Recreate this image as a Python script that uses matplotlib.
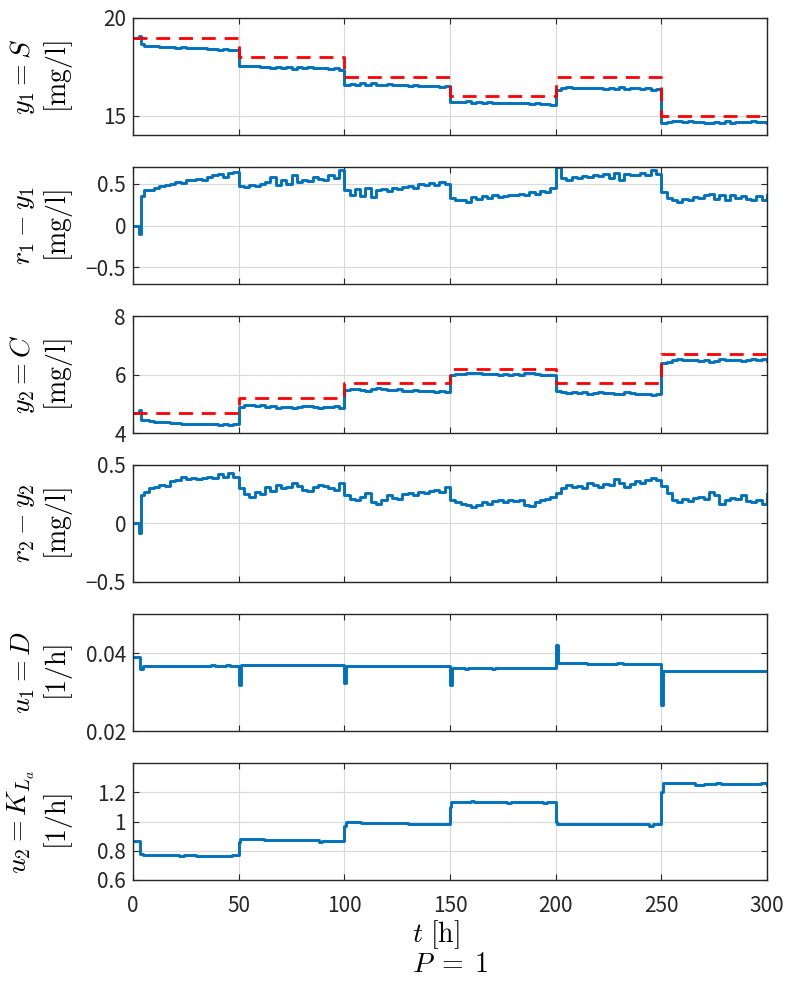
import numpy as np
import matplotlib
matplotlib.use("Agg")
import matplotlib.pyplot as plt
from matplotlib.ticker import FuncFormatter

plt.rcParams['font.family'] = ['Noto Sans CJK JP', 'DejaVu Sans']
plt.rcParams['mathtext.fontset'] = 'cm'

# set-point schedule [h]
t_sp = [0, 50, 100, 150, 200, 250, 300]
r1_sp = [19, 18, 17, 16, 17, 15]
r2_sp = [4.7, 5.2, 5.7, 6.2, 5.7, 6.7]

# sampling times of the tracking errors [h]
t_err = np.concatenate([[0, 3, 4], np.arange(5, 300.1, 2.5)])

# r1 - y1 [mg/l]
e1 = [0.0, -0.10, 0.35,
      0.42, 0.43, 0.45, 0.47, 0.48, 0.50, 0.52, 0.51, 0.54, 0.55,
      0.56, 0.55, 0.58, 0.60, 0.62, 0.58, 0.63, 0.64,
      0.47, 0.46, 0.48, 0.47, 0.50, 0.52, 0.58, 0.49, 0.55, 0.50,
      0.60, 0.52, 0.55, 0.53, 0.58, 0.56, 0.54, 0.60, 0.57, 0.66,
      0.42, 0.37, 0.44, 0.35, 0.45, 0.34, 0.42, 0.44, 0.41, 0.45,
      0.44, 0.46, 0.47, 0.45, 0.50, 0.49, 0.51, 0.48, 0.52, 0.50,
      0.33, 0.30, 0.31, 0.28, 0.34, 0.32, 0.35, 0.33, 0.36, 0.34,
      0.35, 0.37, 0.36, 0.38, 0.37, 0.40, 0.38, 0.41, 0.40, 0.45,
      0.70, 0.57, 0.54, 0.58, 0.57, 0.59, 0.58, 0.60, 0.59, 0.62,
      0.57, 0.63, 0.55, 0.62, 0.60, 0.61, 0.63, 0.60, 0.67, 0.62,
      0.40, 0.33, 0.30, 0.28, 0.32, 0.30, 0.34, 0.33, 0.36, 0.38,
      0.32, 0.37, 0.30, 0.36, 0.33, 0.35, 0.32, 0.30, 0.35, 0.31, 0.36]

# r2 - y2 [mg/l]
e2 = [0.0, -0.08, 0.24,
      0.27, 0.30, 0.31, 0.33, 0.32, 0.36, 0.37, 0.40, 0.38, 0.39,
      0.38, 0.39, 0.40, 0.39, 0.42, 0.40, 0.43, 0.40,
      0.30, 0.25, 0.23, 0.27, 0.25, 0.31, 0.28, 0.33, 0.30, 0.31,
      0.35, 0.32, 0.29, 0.28, 0.31, 0.33, 0.32, 0.30, 0.29, 0.35,
      0.24, 0.21, 0.20, 0.23, 0.26, 0.18, 0.17, 0.20, 0.24, 0.22,
      0.21, 0.25, 0.26, 0.24, 0.27, 0.26, 0.28, 0.29, 0.27, 0.31,
      0.20, 0.18, 0.17, 0.16, 0.14, 0.16, 0.18, 0.17, 0.19, 0.20,
      0.18, 0.20, 0.19, 0.20, 0.16, 0.15, 0.18, 0.20, 0.21, 0.23,
      0.26, 0.30, 0.33, 0.31, 0.32, 0.30, 0.35, 0.33, 0.31, 0.34,
      0.33, 0.38, 0.35, 0.31, 0.34, 0.36, 0.35, 0.37, 0.39, 0.37,
      0.32, 0.26, 0.20, 0.18, 0.21, 0.19, 0.22, 0.23, 0.21, 0.27,
      0.24, 0.17, 0.20, 0.22, 0.21, 0.24, 0.19, 0.18, 0.20, 0.17, 0.25]

# dilution rate D [1/h]
t_u1 = [0, 3.5, 4.5, 37, 39, 44, 46, 50, 51, 100, 101, 150, 151, 157,
        158.5, 170, 171.5, 200, 201, 215, 229, 232, 250, 251, 300]
u1 = [0.0389, 0.0358, 0.0367, 0.0369, 0.0367, 0.0369, 0.0367, 0.0318,
      0.0368, 0.0322, 0.0367, 0.0318, 0.0362, 0.0358, 0.0362, 0.0358,
      0.0362, 0.0421, 0.0374, 0.0371, 0.0374, 0.0371, 0.0266, 0.0353,
      0.0353]

# oxygen transfer coefficient KLa [1/h]
t_u2 = [0, 3.5, 4.5, 22, 24, 30, 33, 45, 47, 50, 50.7, 60, 62, 88, 89.5,
        100, 100.8, 106, 108, 130, 140, 150, 150.7, 160, 161.5, 177, 179,
        194, 196, 200, 200.7, 244, 246, 250, 250.6, 266, 270, 276, 278,
        297, 300]
u2 = [0.87, 0.78, 0.768, 0.762, 0.768, 0.763, 0.767, 0.763, 0.77, 0.86,
      0.878, 0.882, 0.875, 0.862, 0.87, 0.97, 0.995, 1.0, 0.993, 0.985,
      0.98, 1.10, 1.132, 1.14, 1.132, 1.125, 1.132, 1.125, 1.13, 1.0,
      0.98, 0.972, 0.98, 1.2, 1.26, 1.252, 1.258, 1.265, 1.258, 1.262,
      1.252]


def level_at(t, t_steps, levels):
    idx = np.searchsorted(t_steps, t, side='right') - 1
    return np.asarray(levels)[np.clip(idx, 0, len(levels) - 1)]


y1 = level_at(t_err, t_sp, r1_sp) - np.asarray(e1)
y2 = level_at(t_err, t_sp, r2_sp) - np.asarray(e2)

blue = '#0072BD'
red = '#FF0000'
lw = 2.1

fig = plt.figure(figsize=(7.9, 9.81), dpi=100)
W, H = 790.0, 981.0
left_px, width_px, height_px = 133, 634, 117
tops_px = [18, 167, 316, 465, 614, 763]

axes = []
for top in tops_px:
    ax = fig.add_axes([left_px / W, 1 - (top + height_px) / H,
                       width_px / W, height_px / H])
    axes.append(ax)

fmt = FuncFormatter(lambda v, p: f'{v:g}'.replace('-', '\u2212'))

# y1 = S
ax = axes[0]
ax.step(t_err, y1, where='post', color=blue, lw=lw)
ax.step(t_sp, r1_sp + [r1_sp[-1]], where='post', color=red, lw=2,
        dashes=(5, 3.2))
ax.set_ylim(14, 20)
ax.set_yticks([15, 20])
ax.set_ylabel('$y_1 = S$\n$[\\mathrm{mg/l}]$')

# r1 - y1
ax = axes[1]
ax.step(t_err, e1, where='post', color=blue, lw=lw)
ax.set_ylim(-0.7, 0.7)
ax.set_yticks([-0.5, 0, 0.5])
ax.set_ylabel('$r_1 - y_1$\n$[\\mathrm{mg/l}]$')

# y2 = C
ax = axes[2]
ax.step(t_err, y2, where='post', color=blue, lw=lw)
ax.step(t_sp, r2_sp + [r2_sp[-1]], where='post', color=red, lw=2,
        dashes=(5, 3.2))
ax.set_ylim(4, 8)
ax.set_yticks([4, 6, 8])
ax.set_ylabel('$y_2 = C$\n$[\\mathrm{mg/l}]$')

# r2 - y2
ax = axes[3]
ax.step(t_err, e2, where='post', color=blue, lw=lw)
ax.set_ylim(-0.5, 0.5)
ax.set_yticks([-0.5, 0, 0.5])
ax.set_ylabel('$r_2 - y_2$\n$[\\mathrm{mg/l}]$')

# u1 = D
ax = axes[4]
ax.step(t_u1, u1, where='post', color=blue, lw=lw)
ax.set_ylim(0.02, 0.05)
ax.set_yticks([0.02, 0.04])
ax.set_ylabel('$u_1 = D$\n$[\\mathrm{1/h}]$')

# u2 = KLa
ax = axes[5]
ax.step(t_u2, u2, where='post', color=blue, lw=lw)
ax.set_ylim(0.6, 1.4)
ax.set_yticks([0.6, 0.8, 1.0, 1.2])
ax.set_ylabel('$u_2 = K_{L_a}$\n$[\\mathrm{1/h}]$')
ax.set_xlabel('$t\\ [\\mathrm{h}]$\n$P\\;=\\;1$', fontsize=20,
              multialignment='left', linespacing=0.9, labelpad=1)

for i, ax in enumerate(axes):
    ax.set_xlim(0, 300)
    ax.set_xticks([0, 50, 100, 150, 200, 250, 300])
    if i < len(axes) - 1:
        ax.set_xticklabels([])
    ax.yaxis.set_major_formatter(fmt)
    ax.grid(True, color='#d9d9d9', lw=0.8)
    ax.set_axisbelow(True)
    ax.tick_params(direction='in', top=True, right=True, length=4,
                   width=0.8, labelsize=15, color='#262626',
                   labelcolor='#262626', pad=5)
    ax.tick_params(axis='x', pad=11)
    for sp in ax.spines.values():
        sp.set_linewidth(1.0)
        sp.set_color('#262626')
    ax.yaxis.label.set_fontsize(20)
    ax.yaxis.set_label_coords(-0.092, 0.5)

fig.savefig('out.png', dpi=100, facecolor='white')
